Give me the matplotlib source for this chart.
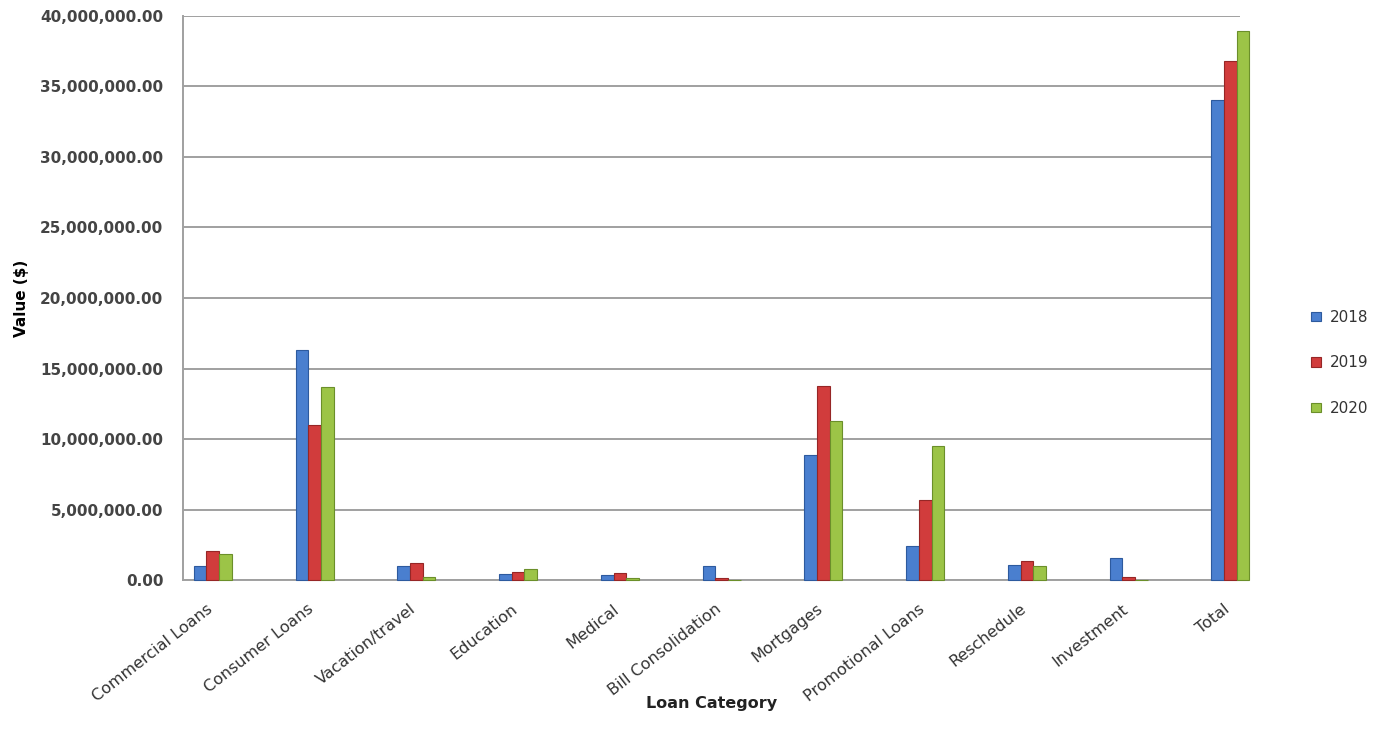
import matplotlib
matplotlib.use('Agg')
import matplotlib.pyplot as plt
import numpy as np
from matplotlib.ticker import FuncFormatter

categories = ['Commercial Loans', 'Consumer Loans', 'Vacation/travel', 'Education',
              'Medical', 'Bill Consolidation', 'Mortgages', 'Promotional Loans',
              'Reschedule', 'Investment', 'Total']
v2018 = [1.0e6, 16.3e6, 1.0e6, 0.45e6, 0.35e6, 1.0e6, 8.9e6, 2.4e6, 1.1e6, 1.6e6, 34.0e6]
v2019 = [2.1e6, 11.0e6, 1.2e6, 0.6e6, 0.5e6, 0.15e6, 13.8e6, 5.7e6, 1.4e6, 0.25e6, 36.8e6]
v2020 = [1.9e6, 13.7e6, 0.25e6, 0.8e6, 0.15e6, 0.05e6, 11.3e6, 9.5e6, 1.0e6, 0.05e6, 38.9e6]
years = ['2018', '2019', '2020']
colors = ['#4a7fcf', '#d13c3c', '#9cc447']
edges = ['#2d5a9e', '#962626', '#6b8f2a']

fig = plt.figure(figsize=(13.85, 7.45), dpi=100)
ax = fig.add_axes([0.132, 0.221, 0.763, 0.758])

x = np.arange(len(categories))
w = 0.125
for i, (vals, c, e, lab) in enumerate(zip([v2018, v2019, v2020], colors, edges, years)):
    ax.bar(x + (i - 1) * w, vals, width=w, color=c, edgecolor=e, linewidth=0.8,
           label=lab, zorder=3, clip_on=False)

ax.set_ylim(0, 40e6)
ax.set_yticks(np.arange(0, 40e6 + 1, 5e6))
ax.yaxis.set_major_formatter(FuncFormatter(lambda v, p: f'{v:,.2f}'))
ax.set_xlim(-0.295, 10.09)
# tick marks are hidden, labels sit slightly left of each group
ax.set_xticks(x - 0.07)
ax.set_xticklabels(categories, rotation=38, ha='right', rotation_mode='anchor',
                   fontsize=11.5, color='#333333')
for t in ax.get_yticklabels():
    t.set_fontsize(11)
    t.set_fontweight('bold')
    t.set_color('#444444')

ax.grid(axis='y', color='#a0a0a0', linewidth=1.4, zorder=0)
for s in ['top', 'right']:
    ax.spines[s].set_visible(False)
ax.spines['left'].set_color('#a0a0a0')
ax.spines['left'].set_linewidth(1.4)
ax.spines['bottom'].set_color('#a0a0a0')
ax.spines['bottom'].set_linewidth(1.4)
ax.tick_params(axis='y', length=0, pad=14)
ax.tick_params(axis='x', length=0, pad=15)

ax.set_ylabel('Value ($)', fontsize=11, fontweight='bold', labelpad=8)
ax.set_xlabel('Loan Category', fontsize=11.5, fontweight='bold', color='#222222')
ax.xaxis.set_label_coords(0.5, -0.204)

ax.legend(loc='center left', bbox_to_anchor=(1.055, 0.385), frameon=False,
          fontsize=11, handlelength=0.6, handleheight=0.6, labelspacing=2.0,
          handletextpad=0.6, labelcolor='#333333')

fig.savefig('out.png', dpi=100)
